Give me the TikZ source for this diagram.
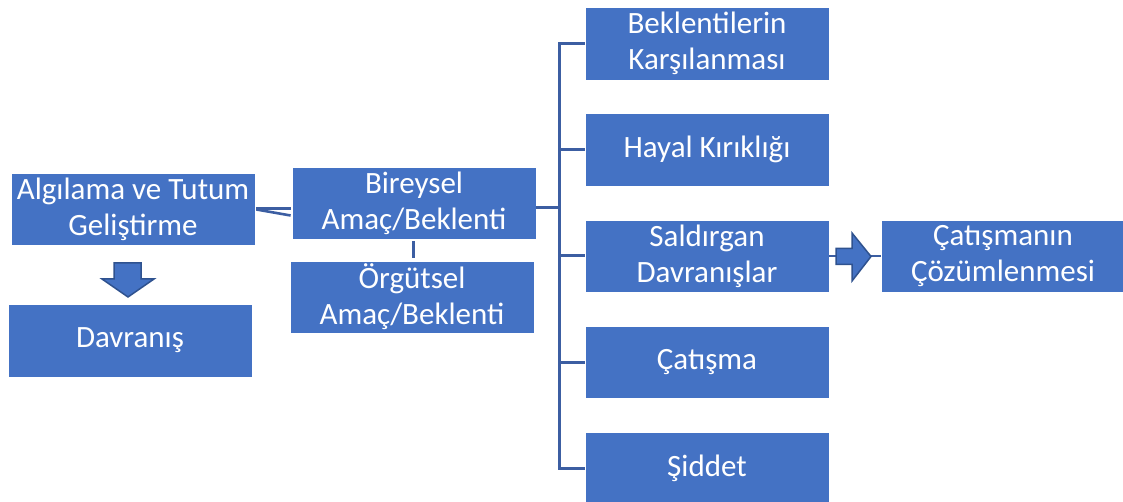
\documentclass[tikz,border=0pt]{standalone}
\usepackage{fontspec}
\setmainfont{Carlito}
\usetikzlibrary{calc}
\definecolor{boxblue}{HTML}{4472C4}
\definecolor{linkblue}{HTML}{3C5EA2}
\definecolor{arrowedge}{HTML}{2F528F}
\begin{document}
\begin{tikzpicture}[x=1pt,y=-1pt,
  box/.style={draw=white, line width=0.8pt, fill=boxblue, text=white,
    minimum width=244pt, minimum height=72pt, align=center, inner sep=0pt,
    font=\fontsize{31}{36}\selectfont},
  link/.style={draw=linkblue, line width=3pt},
  blockarrow/.style={fill=boxblue, draw=arrowedge, line width=1.5pt, line join=miter}]
\useasboundingbox (0,0) rectangle (1123,502);
% nodes
\node[box] (alg) at (133,209) {Algılama ve Tutum\\Geliştirme};
\node[box, minimum height=73pt] (dav) at (130,340.5) {Davranış};
\node[box] (bir) at (414,203) {Bireysel\\Amaç/Beklenti};
\node[box] (org) at (412,297) {Örgütsel\\Amaç/Beklenti};
\node[box, minimum height=73pt] (bek) at (707,43.5) {Beklentilerin\\Karşılanması};
\node[box, minimum height=73pt] (hay) at (707,149.5) {Hayal Kırıklığı};
\node[box] (sal) at (707,256) {Saldırgan\\Davranışlar};
\node[box] (cat) at (707,362) {Çatışma};
\node[box] (sid) at (707,468) {Şiddet};
\node[box] (coz) at (1003,256) {Çatışmanın\\Çözümlenmesi};
% bracket coordinates
\coordinate (btop) at (559,44);
\coordinate (bbot) at (559,468);
\coordinate (bmid) at (559,208);
\draw[link] ($(bir.east)+(0,5)$) -- (bmid);
\draw[link, line cap=rect] (btop) -- (bbot);
\draw[link] (btop) -- (bek.west |- btop);
\draw[link] (559,150) -- (hay.west |- 0,150);
\draw[link] (559,256) -- (sal.west);
\draw[link] (559,362) -- (cat.west);
\draw[link] (bbot) -- (sid.west);
% left connector (Algılama - Bireysel)
\draw[link, line width=2.6pt] ($(alg.east)+(1,-0.5)$) -- ($(bir.west)+(-1,5.5)$);
\draw[link, line width=2.6pt] ($(alg.east)+(1,0.5)$) -- ($(bir.west)+(-1,12.5)$);
% Bireysel - Örgütsel
\draw[link] ($(bir.south)+(-1,2)$) -- ($(org.north)+(1,-3)$);
% Saldırgan - Çözümlenme line
\draw[link, line width=2.5pt] (sal.east) -- (coz.west);
% block arrows
\draw[blockarrow] (114,263) -- (141,263) -- (141,279) -- (154,279) -- (128,297)
  -- (102,279) -- (114,279) -- cycle;
\draw[blockarrow] (836,248.5) -- (852,248.5) -- (852,233) -- (871,256.5) -- (852,281)
  -- (852,264.5) -- (836,264.5) -- cycle;
\end{tikzpicture}
\end{document}
